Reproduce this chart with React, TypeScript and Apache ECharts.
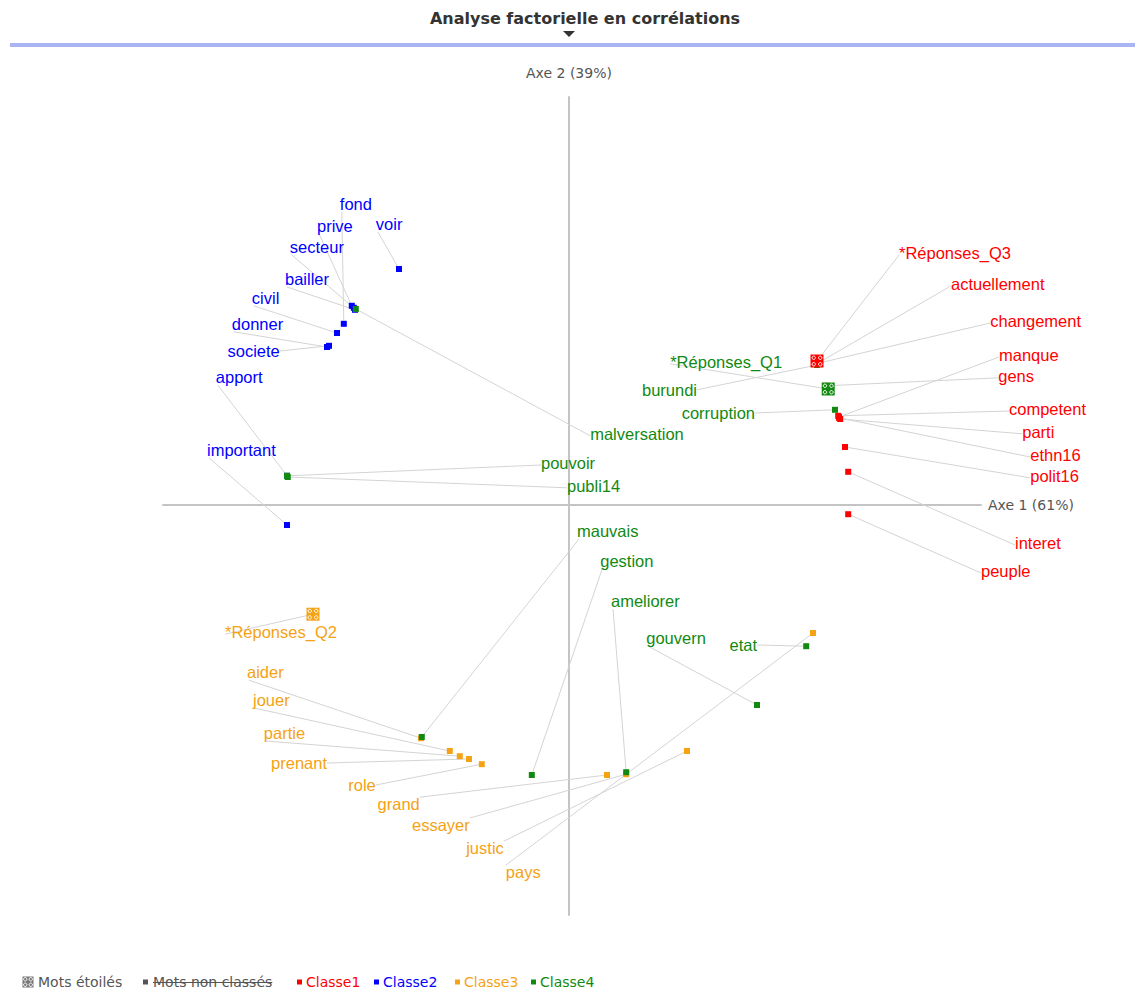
import React, { useEffect, useRef } from "react";
import * as echarts from "echarts";

const FONT = '"Liberation Sans", Arial, sans-serif';
const WIDE_FONT = '"DejaVu Sans", Verdana, sans-serif';

const chartTitle = "Analyse factorielle en corrélations";
const axis1Name = "Axe 1 (61%)";
const axis2Name = "Axe 2 (39%)";

const classNames = ["Classe1", "Classe2", "Classe3", "Classe4"];
const classColors = ["#ff0000", "#0000ff", "#f5a214", "#128a12"];

// Classe1 (red)
const classe1Words = ["*Réponses_Q3", "actuellement", "changement", "manque", "gens", "competent", "parti", "ethn16", "polit16", "interet", "peuple"];
const classe1Points = [[0.62, 0.36], [0.623, 0.355], [0.625, 0.355], [0.675, 0.22], [0.643, 0.298], [0.673, 0.223], [0.678, 0.215], [0.675, 0.218], [0.69, 0.145], [0.698, 0.083], [0.698, -0.023]];
const classe1Labels = [[0.825, 0.63, "l"], [0.955, 0.553, "l"], [1.053, 0.46, "l"], [1.075, 0.375, "l"], [1.073, 0.323, "l"], [1.1, 0.24, "l"], [1.133, 0.183, "l"], [1.153, 0.125, "l"], [1.153, 0.073, "l"], [1.115, -0.095, "l"], [1.03, -0.165, "l"]];

// Classe2 (blue)
const classe2Words = ["fond", "prive", "secteur", "bailler", "civil", "donner", "societe", "voir", "apport", "important"];
const classe2Points = [[-0.563, 0.453], [-0.543, 0.498], [-0.538, 0.493], [-0.535, 0.488], [-0.58, 0.43], [-0.605, 0.395], [-0.6, 0.398], [-0.425, 0.59], [-0.705, 0.073], [-0.705, -0.05]];
const classe2Labels = [[-0.573, 0.753, "bl"], [-0.63, 0.698, "bl"], [-0.698, 0.645, "bl"], [-0.71, 0.565, "bl"], [-0.793, 0.518, "bl"], [-0.843, 0.453, "bl"], [-0.723, 0.385, "r"], [-0.483, 0.703, "bl"], [-0.883, 0.32, "bl"], [-0.905, 0.138, "bl"]];

// Classe3 (orange)
const classe3Words = ["*Réponses_Q2", "aider", "jouer", "partie", "prenant", "role", "grand", "essayer", "justic", "pays"];
const classe3Points = [[-0.64, -0.273], [-0.37, -0.583], [-0.298, -0.615], [-0.273, -0.628], [-0.25, -0.635], [-0.218, -0.648], [0.095, -0.675], [0.143, -0.673], [0.295, -0.615], [0.61, -0.32]];
const classe3Labels = [[-0.86, -0.318, "l"], [-0.805, -0.418, "bl"], [-0.79, -0.488, "bl"], [-0.763, -0.57, "bl"], [-0.605, -0.645, "r"], [-0.483, -0.7, "r"], [-0.373, -0.748, "tr"], [-0.248, -0.8, "tr"], [-0.163, -0.858, "tr"], [-0.158, -0.918, "tl"]];

// Classe4 (green)
const classe4Words = ["*Réponses_Q1", "burundi", "corruption", "malversation", "pouvoir", "publi14", "mauvais", "gestion", "ameliorer", "gouvern", "etat"];
const classe4Points = [[0.648, 0.29], [0.62, 0.35], [0.665, 0.238], [-0.533, 0.49], [-0.705, 0.073], [-0.703, 0.07], [-0.368, -0.58], [-0.093, -0.675], [0.143, -0.668], [0.47, -0.5], [0.593, -0.353]];
const classe4Labels = [[0.253, 0.358, "l"], [0.32, 0.288, "r"], [0.465, 0.23, "r"], [0.053, 0.178, "l"], [-0.07, 0.105, "l"], [-0.005, 0.048, "l"], [0.02, -0.065, "bl"], [0.078, -0.14, "bl"], [0.105, -0.24, "bl"], [0.193, -0.333, "bl"], [0.47, -0.35, "r"]];

const legendItems = ["Mots étoilés", "Mots non classés", ...classNames];

const classWords = [classe1Words, classe2Words, classe3Words, classe4Words];
const classPoints = [classe1Points, classe2Points, classe3Points, classe4Points];
const classLabels = [classe1Labels, classe2Labels, classe3Labels, classe4Labels];

function starPattern(cx: number, cy: number, size: number, fg: string, bg: string, z2: number) {
  const h = size / 2;
  const q = size / 4;
  const els: any[] = [
    { type: "rect", shape: { x: cx - h, y: cy - h, width: size, height: size }, style: { fill: bg }, z2 },
  ];
  const centers = [[cx - q, cy - q], [cx + q, cy - q], [cx - q, cy + q], [cx + q, cy + q]];
  centers.forEach((c) => {
    els.push({ type: "circle", shape: { cx: c[0], cy: c[1], r: 1.7 }, style: { fill: "none", stroke: fg, lineWidth: 1 }, z2: z2 + 1 });
  });
  return els;
}

function makeRenderItem(ci: number) {
  const words = classWords[ci];
  const pts = classPoints[ci];
  const labs = classLabels[ci];
  const color = classColors[ci];
  return (params: any, api: any) => {
    const i = params.dataIndex;
    const p = api.coord(pts[i]);
    const lab = labs[i];
    const t = api.coord([lab[0], lab[1]]);
    const code = lab[2] as string;
    const right = code === "r" || code === "tr";
    let ex = t[0];
    let ey = t[1];
    if (code === "bl") { ex += 2; ey += 8; }
    else if (code === "tr" || code === "tl") { ey -= 7; }
    else if (code === "l") { ey += 2; }
    const star = words[i].charAt(0) === "*";
    const children: any[] = [
      {
        type: "line",
        shape: { x1: p[0], y1: p[1], x2: ex, y2: ey },
        style: { stroke: "#d4d4d4", lineWidth: 1 },
        z2: 1,
        silent: true,
      },
    ];
    if (star) {
      children.push(...starPattern(p[0], p[1], 13, "#ffffff", color, 12));
    } else {
      children.push({
        type: "rect",
        shape: { x: p[0] - 3, y: p[1] - 3, width: 6, height: 6 },
        style: { fill: color },
        z2: 10,
      });
    }
    children.push({
      type: "text",
      x: t[0],
      y: t[1],
      style: {
        text: words[i],
        fill: color,
        font: "16.5px " + FONT,
        align: right ? "right" : "left",
        verticalAlign: "middle",
        textAlign: right ? "right" : "left",
        textVerticalAlign: "middle",
      },
      z2: 20,
    });
    return { type: "group", children };
  };
}

function measure(text: string, font: string): number {
  const c = document.createElement("canvas").getContext("2d");
  if (!c) return text.length * 7;
  c.font = font;
  return c.measureText(text).width;
}

export default function App() {
  const ref = useRef<HTMLDivElement>(null);
  useEffect(() => {
    if (!ref.current) return;
    const chart = echarts.init(ref.current, undefined, { renderer: "svg" });

    const legendY = 982;
    const legendFont = "14px " + WIDE_FONT;
    const legendX = [38, 153, 306, 383, 464, 540];
    const legendIconX = [28, 145.5, 299.5, 376.5, 457.5, 533.5];
    const legendColors = ["#555555", "#555555", ...classColors];
    const legendGraphics: any[] = [];
    legendItems.forEach((name, k) => {
      if (k === 0) {
        legendGraphics.push(...starPattern(legendIconX[k], legendY, 11, "#ffffff", "#777777", 1));
      } else {
        legendGraphics.push({
          type: "rect",
          shape: { x: legendIconX[k] - 2.5, y: legendY - 2.5, width: 5, height: 5 },
          style: { fill: k === 1 ? "#555555" : legendColors[k] },
        });
      }
      legendGraphics.push({
        type: "text",
        x: legendX[k],
        y: legendY,
        style: { text: name, fill: legendColors[k], font: legendFont, textVerticalAlign: "middle", verticalAlign: "middle" },
      });
    });
    const strikeW = measure(legendItems[1], legendFont);
    legendGraphics.push({
      type: "line",
      shape: { x1: legendX[1], y1: legendY + 0.5, x2: legendX[1] + strikeW, y2: legendY + 0.5 },
      style: { stroke: "#555555", lineWidth: 1 },
    });

    const option: any = {
      animation: false,
      backgroundColor: "#ffffff",
      grid: { left: 163, top: 97, width: 818, height: 818, containLabel: false },
      xAxis: {
        type: "value",
        min: -1.015,
        max: 1.03,
        axisLine: { onZero: true, lineStyle: { color: "#c4c4c4", width: 2 } },
        axisTick: { show: false },
        axisLabel: { show: false },
        splitLine: { show: false },
        name: axis1Name,
        nameLocation: "end",
        nameGap: 7,
        nameTextStyle: { color: "#555555", fontSize: 14, fontFamily: WIDE_FONT },
      },
      yAxis: {
        type: "value",
        min: -1.025,
        max: 1.02,
        axisLine: { onZero: true, lineStyle: { color: "#c4c4c4", width: 2 } },
        axisTick: { show: false },
        axisLabel: { show: false },
        splitLine: { show: false },
        name: axis2Name,
        nameLocation: "end",
        nameGap: 17,
        nameTextStyle: { color: "#555555", fontSize: 14, fontFamily: WIDE_FONT },
      },
      series: classNames.map((name, ci) => ({
        type: "custom",
        name,
        coordinateSystem: "cartesian2d",
        clip: false,
        data: classPoints[ci],
        renderItem: makeRenderItem(ci),
      })),
      graphic: [
        {
          type: "text",
          x: 585,
          y: 18,
          style: {
            text: chartTitle,
            fill: "#333333",
            font: "bold 16px " + WIDE_FONT,
            textAlign: "center",
            textVerticalAlign: "middle",
            align: "center",
            verticalAlign: "middle",
          },
        },
        {
          type: "polygon",
          shape: { points: [[563, 31], [575, 31], [569, 37]] },
          style: { fill: "#333333" },
        },
        {
          type: "rect",
          shape: { x: 10, y: 43, width: 1125, height: 4 },
          style: { fill: "#aab4f2" },
        },
        ...legendGraphics,
      ],
    };
    chart.setOption(option);
    return () => chart.dispose();
  }, []);
  return <div ref={ref} style={{ position: "absolute", left: 0, top: 0, width: 1135, height: 994 }} />;
}
